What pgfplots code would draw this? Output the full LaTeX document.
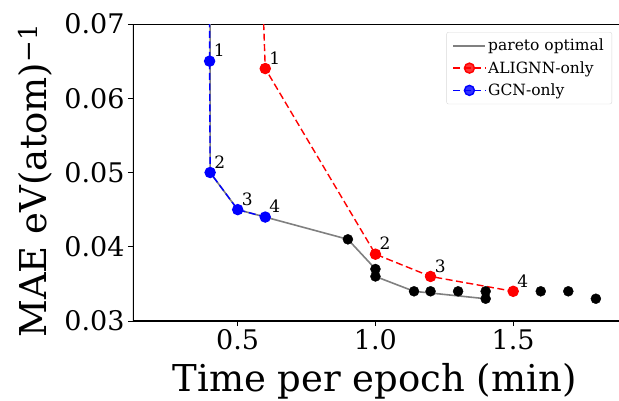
\documentclass[border=0pt]{standalone}
\usepackage{fontspec}
\setmainfont{DejaVu Serif}
\usepackage{pgfplots}
\pgfplotsset{compat=1.18}
\begin{document}
\begin{tikzpicture}
\useasboundingbox (-133pt,-79pt) rectangle (486pt,321pt);
\begin{axis}[
  scale only axis, width=486pt, height=297pt,
  xmin=0.12, xmax=1.884, ymin=0.03, ymax=0.07,
  axis line style={draw=none},
  tick pos=left, tick align=outside, major tick length=5pt,
  tick style={black, line width=1pt},
  xtick={0.5,1.0,1.5}, ytick={0.03,0.04,0.05,0.06,0.07},
  scaled x ticks=false, scaled y ticks=false,
  x tick label style={/pgf/number format/fixed, /pgf/number format/fixed zerofill, /pgf/number format/precision=1, /pgf/number format/assume math mode=true},
  y tick label style={/pgf/number format/fixed, /pgf/number format/fixed zerofill, /pgf/number format/precision=2, /pgf/number format/assume math mode=true},
  ticklabel style={font=\fontsize{27}{30}\selectfont},
  xlabel={Time per epoch (min)}, ylabel={MAE eV(atom)\textsuperscript{−1}},
  label style={font=\fontsize{37}{40}\selectfont},
  xlabel style={at={(rel axis cs:0.497,-0.2390)}, anchor=base},
  ylabel style={at={(rel axis cs:-0.1770,0.472)}, anchor=base},
  legend style={at={(rel axis cs:1,1)}, anchor=north east, xshift=-7pt, yshift=-8pt,
    font=\fontsize{15.5}{17}\selectfont, draw=black!15, rounded corners=2pt, fill=white, fill opacity=0.8, text opacity=1,
    row sep=5pt, inner xsep=6pt, inner ysep=5pt},
  legend image code/.code={\draw[mark repeat=2,mark phase=2] plot coordinates {(0pt,0pt) (16pt,0pt) (32pt,0pt)};},
  legend cell align=left,
  clip=true,
]
\draw[black, line width=1.2pt] (rel axis cs:0,1) -- (rel axis cs:0,0) -- (rel axis cs:1,0);
\draw[black, line width=1.2pt] (rel axis cs:0,1) -- (rel axis cs:1,1);
\addplot[gray, line width=1.6pt, no markers] coordinates {
(0.4,0.12) (0.4,0.065) (0.4,0.05) (0.5,0.045) (0.6,0.044) (0.9,0.041) (1.0,0.037) (1.0,0.036) (1.14,0.034) (1.4,0.033)};
\addlegendentry{pareto optimal}
\addplot[red, line width=1.4pt, dash pattern=on 7pt off 3.5pt, mark=*, mark size=5pt, mark options={solid}] coordinates {
(0.585,0.08) (0.6,0.064) (1.0,0.039) (1.2,0.036) (1.5,0.034)};
\addlegendentry{ALIGNN-only}
\addplot[blue, line width=1.4pt, dash pattern=on 7pt off 3.5pt, mark=*, mark size=5pt, mark options={solid}] coordinates {
(0.396,0.12) (0.398,0.065) (0.4,0.05) (0.5,0.045) (0.6,0.044)};
\addlegendentry{GCN-only}
\addplot[only marks, black, mark=*, mark size=5pt, forget plot] coordinates {
(0.9,0.041) (1.0,0.037) (1.0,0.036) (1.14,0.034) (1.2,0.034) (1.3,0.034) (1.4,0.034) (1.4,0.033) (1.6,0.034) (1.7,0.034) (1.8,0.033)};
\addplot[red, only marks, mark=*, mark size=5pt, forget plot] coordinates {(0.6,0.064) (1.0,0.039) (1.2,0.036) (1.5,0.034)};
\begin{scope}[every node/.style={anchor=south west, font=\fontsize{17}{19}\selectfont, inner sep=0pt, xshift=4pt, yshift=4pt}]
\node at (axis cs:0.398,0.065) {1};
\node at (axis cs:0.4,0.05) {2};
\node at (axis cs:0.5,0.045) {3};
\node at (axis cs:0.6,0.044) {4};
\node at (axis cs:0.6,0.064) {1};
\node at (axis cs:1.0,0.039) {2};
\node at (axis cs:1.2,0.036) {3};
\node at (axis cs:1.5,0.034) {4};
\end{scope}
\end{axis}
\end{tikzpicture}
\end{document}
